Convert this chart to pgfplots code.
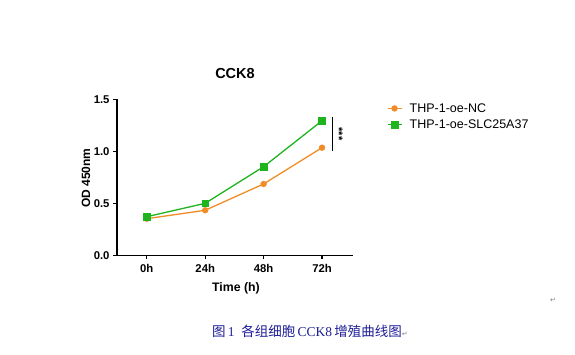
\documentclass[border=0pt]{standalone}
\usepackage{fontspec}
\setmainfont{Liberation Sans}
\newfontfamily\serif{Liberation Serif}
\newfontfamily\cjk{Noto Sans CJK SC}
\newfontfamily\dejavu{DejaVu Sans}
\usepackage{pgfplots}
\pgfplotsset{compat=1.18}
\definecolor{ncorange}{RGB}{240,140,40}
\definecolor{slcgreen}{RGB}{30,180,30}
\definecolor{capblue}{RGB}{30,30,150}
\begin{document}
\begin{tikzpicture}[x=1pt,y=1pt]
\path (0,0) rectangle (575,354);
\begin{axis}[
  at={(117pt,98.7pt)}, anchor=south west,
  scale only axis, width=236pt, height=156pt,
  xmin=-0.51, xmax=3.53, ymin=0, ymax=1.5,
  axis lines=left, axis line style={-, line width=1.1pt},
  xtick={0,1,2,3}, xticklabels={0h,24h,48h,72h},
  ytick={0,0.5,1,1.5},
  yticklabel style={/pgf/number format/.cd, fixed, fixed zerofill, precision=1},
  /pgf/number format/assume math mode=true,
  tick style={line width=1.1pt, black},
  tick align=outside, major tick length=4pt,
  ticklabel style={font=\fontsize{11.3}{11.3}\selectfont\bfseries},
  xticklabel style={yshift=-1pt},
  clip=false,
  legend style={at={(axis description cs:1.13,0.998)}, anchor=north west, draw=none, fill=none,
    font=\fontsize{12.5}{14}\selectfont, row sep=3pt,
    nodes={inner sep=1.5pt},
    /tikz/every odd column/.append style={column sep=6pt}},
  legend cell align=left,
  legend image code/.code={\draw[#1] (0pt,0pt) -- (14pt,0pt); \draw[#1, mark repeat=2, mark phase=2] plot coordinates {(0pt,0pt) (7pt,0pt) (14pt,0pt)};},
]
\addplot[color=ncorange, line width=1.3pt, mark=*, mark size=2.9pt, mark options={line width=0.5pt}] coordinates {(0,0.352) (1,0.433) (2,0.686) (3,1.035)};
\addlegendentry{THP-1-oe-NC}
\addplot[color=slcgreen, line width=1.3pt, mark=square*, mark size=3.3pt, mark options={line width=0.5pt}] coordinates {(0,0.371) (1,0.500) (2,0.852) (3,1.294)};
\addlegendentry{THP-1-oe-SLC25A37}
\draw[line width=0.8pt] (axis cs:3.18,1.006) -- (axis cs:3.18,1.327);
\node[rotate=-90, font=\fontsize{11}{11}\selectfont\bfseries] at (axis cs:3.29,1.165) {***};
\end{axis}
\node[font=\fontsize{14.5}{14.5}\selectfont\bfseries] at (235,354-74) {CCK8};
\node[font=\fontsize{12}{12}\selectfont\bfseries, rotate=90] at (86,354-178) {OD 450nm};
\node[font=\fontsize{12.3}{12.3}\selectfont\bfseries] at (236,354-288) {Time (h)};
\node[text=gray, font=\dejavu\fontsize{7}{7}\selectfont] at (553,354-300) {↵};
\node[text=capblue, anchor=center] at (310,354-331) {\fontsize{13.5}{13.5}\selectfont{\cjk 图}\,{\serif 1}\enspace{\cjk 各组细胞}\,{\serif CCK8}\,{\cjk 增殖曲线图}{\color{gray}\dejavu\fontsize{7}{7}\selectfont ↵}};
\end{tikzpicture}
\end{document}
